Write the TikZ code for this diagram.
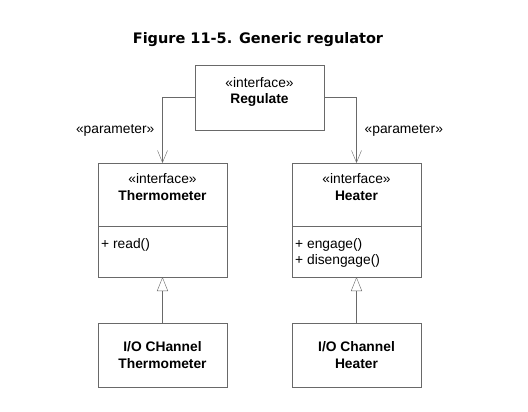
\documentclass[tikz,border=0pt]{standalone}
\usepackage{fontspec}
\setmainfont{Liberation Sans}
\newfontfamily\titlefont{DejaVu Sans}
\usetikzlibrary{arrows.meta,positioning}
\definecolor{linegray}{RGB}{105,105,105}

\begin{document}
\begin{tikzpicture}[
    x=1pt, y=-1pt,
    box/.style={rectangle, draw=linegray, minimum width=129pt, inner sep=0pt, outer sep=0pt},
    iobox/.style={box, minimum height=64pt, align=center,
                  font=\fontsize{13.8}{17}\selectfont\bfseries},
    txt/.style={align=center, inner sep=0pt, font=\fontsize{13.8}{16.5}\selectfont},
    ops/.style={align=left, inner sep=0pt, font=\fontsize{13.8}{16}\selectfont},
    lbl/.style={inner sep=0pt, font=\fontsize{13.8}{16}\selectfont},
    dep/.style={-{Straight Barb[length=12pt, width=10pt]}, draw=linegray},
    gen/.style={-{Triangle[open, length=14pt, width=11pt]}, draw=linegray}
]
\fill[white] (0,0) rectangle (528,412);
\useasboundingbox (0,0) rectangle (528,412);

% Title
\node[font={\titlefont\bfseries\fontsize{14.5}{17}\selectfont}] (title) at (258,40) {Figure 11-5. Generic regulator};

% Row 1: Regulate
\node[box, minimum height=65pt] (reg) at (259.5,97.5) {};
\node[txt, below=12pt of reg.north] (regname) {«interface»\\\textbf{Regulate}};

% Row 2: Thermometer and Heater interfaces
\node[box, minimum height=63pt] (therm) at (162.5,194.5) {};
\node[box, minimum height=51pt, below=0pt of therm] (thermops) {};
\node[txt, below=10.5pt of therm.north] (thermname) {«interface»\\\textbf{Thermometer}};
\node[ops, below right=12pt and 3pt of thermops.north west] (thermop) {+ read()};

\node[box, minimum height=63pt] (heat) at (356.5,194.5) {};
\node[box, minimum height=51pt, below=0pt of heat] (heatops) {};
\node[txt, below=10.5pt of heat.north] (heatname) {«interface»\\\textbf{Heater}};
\node[ops, below right=12pt and 3pt of heatops.north west] (heatop) {+ engage()\\+ disengage()};

% Row 3: I/O channel classes
\node[iobox] (iotherm) at (162.5,355) {I/O CHannel\\Thermometer};
\node[iobox] (ioheat) at (356.5,355) {I/O Channel\\Heater};

% Arrows
\draw[dep] (reg.west) -| node[lbl, pos=0.75, left=8pt] {«parameter»} (therm.north);
\draw[dep] (reg.east) -| node[lbl, pos=0.75, right=8pt] {«parameter»} (heat.north);
\draw[gen] (iotherm) -- (thermops);
\draw[gen] (ioheat) -- (heatops);
\end{tikzpicture}
\end{document}
